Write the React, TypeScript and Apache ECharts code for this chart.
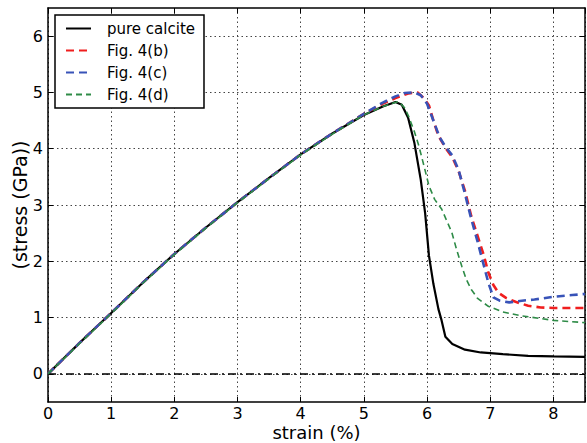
import React, { useEffect, useRef } from "react";
import * as echarts from "echarts";

const xTicks = [0, 1, 2, 3, 4, 5, 6, 7, 8];
const yTicks = [0, 1, 2, 3, 4, 5, 6];

const seriesNames = ["pure calcite", "Fig. 4(b)", "Fig. 4(c)", "Fig. 4(d)"];

const calciteStrain = [0, 0.5, 1, 1.5, 2, 2.5, 3, 3.5, 4, 4.5, 5, 5.3, 5.5, 5.6, 5.7, 5.8, 5.9, 5.97, 6.03, 6.1, 6.18, 6.23, 6.29, 6.4, 6.6, 6.85, 7.2, 7.6, 8, 8.5];
const calciteStress = [0, 0.55, 1.08, 1.62, 2.13, 2.6, 3.05, 3.48, 3.9, 4.27, 4.6, 4.75, 4.83, 4.78, 4.55, 4.1, 3.45, 2.85, 2.1, 1.6, 1.15, 0.95, 0.66, 0.53, 0.43, 0.38, 0.35, 0.32, 0.31, 0.3];

const figBStrain = [0, 0.5, 1, 1.5, 2, 2.5, 3, 3.5, 4, 4.5, 5, 5.3, 5.5, 5.7, 5.85, 5.95, 6.03, 6.1, 6.18, 6.3, 6.4, 6.5, 6.6, 6.7, 6.8, 6.9, 6.97, 7.05, 7.13, 7.25, 7.4, 7.6, 7.8, 8.0, 8.5];
const figBStress = [0, 0.55, 1.08, 1.62, 2.13, 2.6, 3.05, 3.48, 3.9, 4.27, 4.62, 4.8, 4.9, 4.98, 5.0, 4.9, 4.77, 4.5, 4.23, 4.0, 3.85, 3.6, 3.25, 2.8, 2.45, 2.1, 1.8, 1.58, 1.44, 1.35, 1.28, 1.21, 1.18, 1.17, 1.17];

const figCStrain = [0, 0.5, 1, 1.5, 2, 2.5, 3, 3.5, 4, 4.5, 5, 5.3, 5.5, 5.65, 5.8, 5.9, 6.0, 6.1, 6.2, 6.3, 6.4, 6.5, 6.6, 6.7, 6.8, 6.86, 6.97, 7.05, 7.15, 7.3, 7.5, 7.7, 8.0, 8.3, 8.5];
const figCStress = [0, 0.55, 1.08, 1.62, 2.13, 2.6, 3.05, 3.48, 3.9, 4.27, 4.62, 4.82, 4.93, 4.99, 5.0, 4.95, 4.8, 4.5, 4.2, 4.02, 3.88, 3.62, 3.2, 2.75, 2.35, 2.09, 1.62, 1.36, 1.3, 1.27, 1.3, 1.32, 1.37, 1.4, 1.42];

const figDStrain = [0, 0.5, 1, 1.5, 2, 2.5, 3, 3.5, 4, 4.5, 5, 5.3, 5.55, 5.65, 5.71, 5.8, 5.87, 5.95, 6.03, 6.12, 6.23, 6.3, 6.39, 6.47, 6.55, 6.62, 6.7, 6.8, 6.97, 7.2, 7.5, 8.0, 8.5];
const figDStress = [0, 0.54, 1.07, 1.61, 2.12, 2.59, 3.04, 3.47, 3.89, 4.26, 4.6, 4.75, 4.84, 4.72, 4.57, 4.3, 4.05, 3.7, 3.34, 3.1, 2.93, 2.75, 2.52, 2.2, 1.91, 1.68, 1.5, 1.34, 1.2, 1.1, 1.03, 0.95, 0.91];

const zip = (xs: number[], ys: number[]) => xs.map((x, i) => [x, ys[i]]);

const FONT = "DejaVu Sans";

export default function App() {
  const ref = useRef<HTMLDivElement>(null);
  useEffect(() => {
    if (!ref.current) return;
    const chart = echarts.init(ref.current, undefined, { renderer: "svg" });
    const axisLine = { show: true, onZero: false, lineStyle: { color: "#000", width: 1.5 } };
    const tick = { show: true, inside: true, length: 5, lineStyle: { color: "#000", width: 1 } };
    const grid = { show: true, lineStyle: { color: "#444", type: [1.5, 3] as any, width: 1 } };
    chart.setOption({
      animation: false,
      backgroundColor: "#fff",
      textStyle: { fontFamily: FONT },
      grid: { left: 48, right: 2, top: 8, bottom: 41, containLabel: false, outerBoundsMode: "none" },
      legend: {
        show: true,
        orient: "vertical",
        left: 55,
        top: 15,
        data: seriesNames,
        backgroundColor: "#fff",
        borderColor: "#000",
        borderWidth: 1.5,
        borderRadius: 0,
        padding: [6, 9, 6, 10],
        itemGap: 7,
        itemWidth: 25,
        itemHeight: 16,
        itemStyle: { opacity: 0 },
        textStyle: { fontFamily: FONT, fontSize: 15, color: "#000", padding: [0, 0, 0, 11] },
      },
      xAxis: [
        {
          type: "value",
          min: 0,
          max: 8.5,
          interval: 1,
          position: "bottom",
          axisLine,
          axisTick: tick,
          splitLine: grid,
          axisLabel: { color: "#000", fontSize: 16, lineHeight: 16, fontFamily: FONT, margin: 3, customValues: xTicks },
          name: "strain (%)",
          nameLocation: "middle",
          nameGap: 21.5,
          nameMoveOverlap: false,
          nameTextStyle: { color: "#000", fontSize: 18, lineHeight: 18, fontFamily: FONT },
        },
        {
          type: "value",
          min: 0,
          max: 8.5,
          interval: 1,
          position: "top",
          axisLine,
          axisTick: tick,
          splitLine: { show: false },
          axisLabel: { show: false },
        },
      ],
      yAxis: [
        {
          type: "value",
          min: -0.5,
          max: 6.5,
          position: "left",
          axisLine,
          axisTick: { ...tick, customValues: yTicks },
          splitLine: grid,
          axisLabel: { color: "#000", fontSize: 16, fontFamily: FONT, margin: 5, customValues: yTicks },
          name: "(stress (GPa))",
          nameLocation: "middle",
          nameGap: 19,
          nameMoveOverlap: false,
          nameTextStyle: { color: "#000", fontSize: 19, fontFamily: FONT },
        },
        {
          type: "value",
          min: -0.5,
          max: 6.5,
          position: "right",
          axisLine,
          axisTick: { ...tick, customValues: yTicks },
          splitLine: { show: false },
          axisLabel: { show: false, customValues: yTicks },
        },
      ],
      series: [
        {
          name: seriesNames[0],
          type: "line",
          data: zip(calciteStrain, calciteStress),
          showSymbol: false,
          symbol: "none",
          lineStyle: { color: "#000", width: 2.2 },
          itemStyle: { color: "#000" },
          z: 2,
          markLine: {
            silent: true,
            symbol: "none",
            label: { show: false },
            lineStyle: { color: "#000", type: [8, 4, 2, 4] as any, width: 1.5 },
            data: [{ yAxis: 0 }],
          },
        },
        {
          name: seriesNames[1],
          type: "line",
          data: zip(figBStrain, figBStress),
          showSymbol: false,
          symbol: "none",
          lineStyle: { color: "#f01e1e", width: 2.6, type: [8, 5] as any },
          itemStyle: { color: "#f01e1e" },
          z: 3,
        },
        {
          name: seriesNames[2],
          type: "line",
          data: zip(figCStrain, figCStress),
          showSymbol: false,
          symbol: "none",
          lineStyle: { color: "#3853b8", width: 2.6, type: [8, 5] as any },
          itemStyle: { color: "#3853b8" },
          z: 4,
        },
        {
          name: seriesNames[3],
          type: "line",
          data: zip(figDStrain, figDStress),
          showSymbol: false,
          symbol: "none",
          lineStyle: { color: "#2e8b47", width: 1.6, type: [6, 4] as any },
          itemStyle: { color: "#2e8b47" },
          z: 5,
        },
      ],
    });
    return () => chart.dispose();
  }, []);
  return <div ref={ref} style={{ width: 587, height: 443, position: "absolute", left: 0, top: 0 }} />;
}
